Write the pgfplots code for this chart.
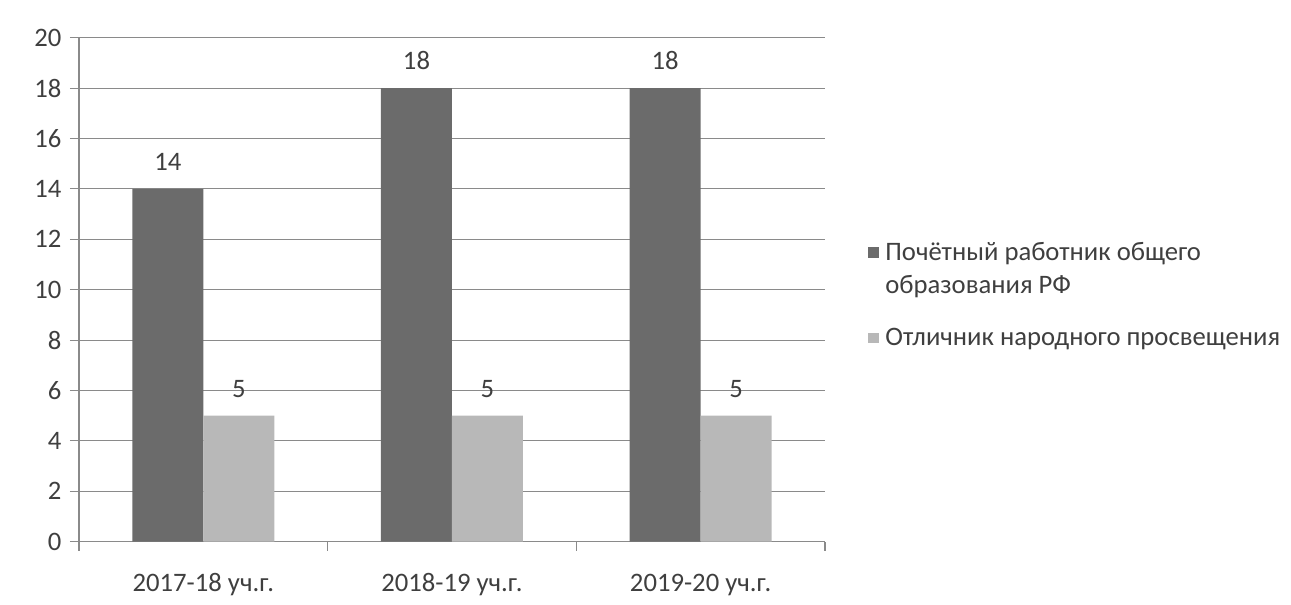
\documentclass[border=0pt]{standalone}
\usepackage{fontspec}
\setmainfont{Carlito}
\usepackage{pgfplots}
\pgfplotsset{compat=1.18}
\definecolor{darkbar}{HTML}{6B6B6B}
\definecolor{lightbar}{HTML}{B8B8B8}
\definecolor{gridc}{HTML}{8A8A8A}
\definecolor{txt}{HTML}{3F3F3F}
\pgfplotsset{
  legimgA/.style={legend image code/.code={\fill[##1] (0pt,8.4pt) rectangle (8pt,16.4pt);}},
  legimgB/.style={legend image code/.code={\fill[##1] (0pt,-4pt) rectangle (8pt,4pt);}},
}
\begin{document}
\begin{tikzpicture}
\begin{axis}[
  name=ax,
  scale only axis, width=559.5pt, height=378pt,
  ybar=0pt, bar width=53.25pt,
  xmin=-0.5, xmax=2.5, ymin=0, ymax=20,
  ytick={0,2,...,20},
  xtick={0,1,2},
  xticklabels={2017-18 уч.г., 2018-19 уч.г., 2019-20 уч.г.},
  minor xtick={-0.5,0.5,1.5,2.5},
  major x tick style={draw=none},
  tick align=outside,
  axis x line*=bottom, axis y line*=left,
  major tick length=6.75pt, minor tick length=6.75pt,
  ymajorgrids,
  grid style={gridc, line width=0.8pt},
  axis line style={gridc, line width=0.8pt, -},
  tick style={gridc, line width=0.8pt},
  ticklabel style={font=\fontsize{20}{24}\selectfont, text=txt},
  xticklabel style={anchor=base, yshift=-31pt},
  yticklabel style={xshift=-3pt},
  /pgf/number format/assume math mode=true,
  nodes near coords,
  nodes near coords style={font=\fontsize{20}{24}\selectfont, text=txt, yshift=10pt},
  legend style={at={(rel axis cs:1.052,0.605)}, anchor=north west, draw=none, fill=none,
    font=\fontsize{20}{24.75}\selectfont, text=txt,
    cells={anchor=west, align=left}, row sep=20.75pt,
    /tikz/every odd column/.append style={column sep=3pt}},
]
\addplot[fill=darkbar, draw=none, legimgA] coordinates {(0,14) (1,18) (2,18)};
\addplot[fill=lightbar, draw=none, legimgB] coordinates {(0,5) (1,5) (2,5)};
\legend{{Почётный работник общего\\образования РФ}, {Отличник народного просвещения}}
\coordinate (bl) at (rel axis cs:-0.1059,-0.125);
\coordinate (tr) at (rel axis cs:1.6247,1.0747);
\end{axis}
\path[use as bounding box] (bl) rectangle (tr);
\end{tikzpicture}
\end{document}
